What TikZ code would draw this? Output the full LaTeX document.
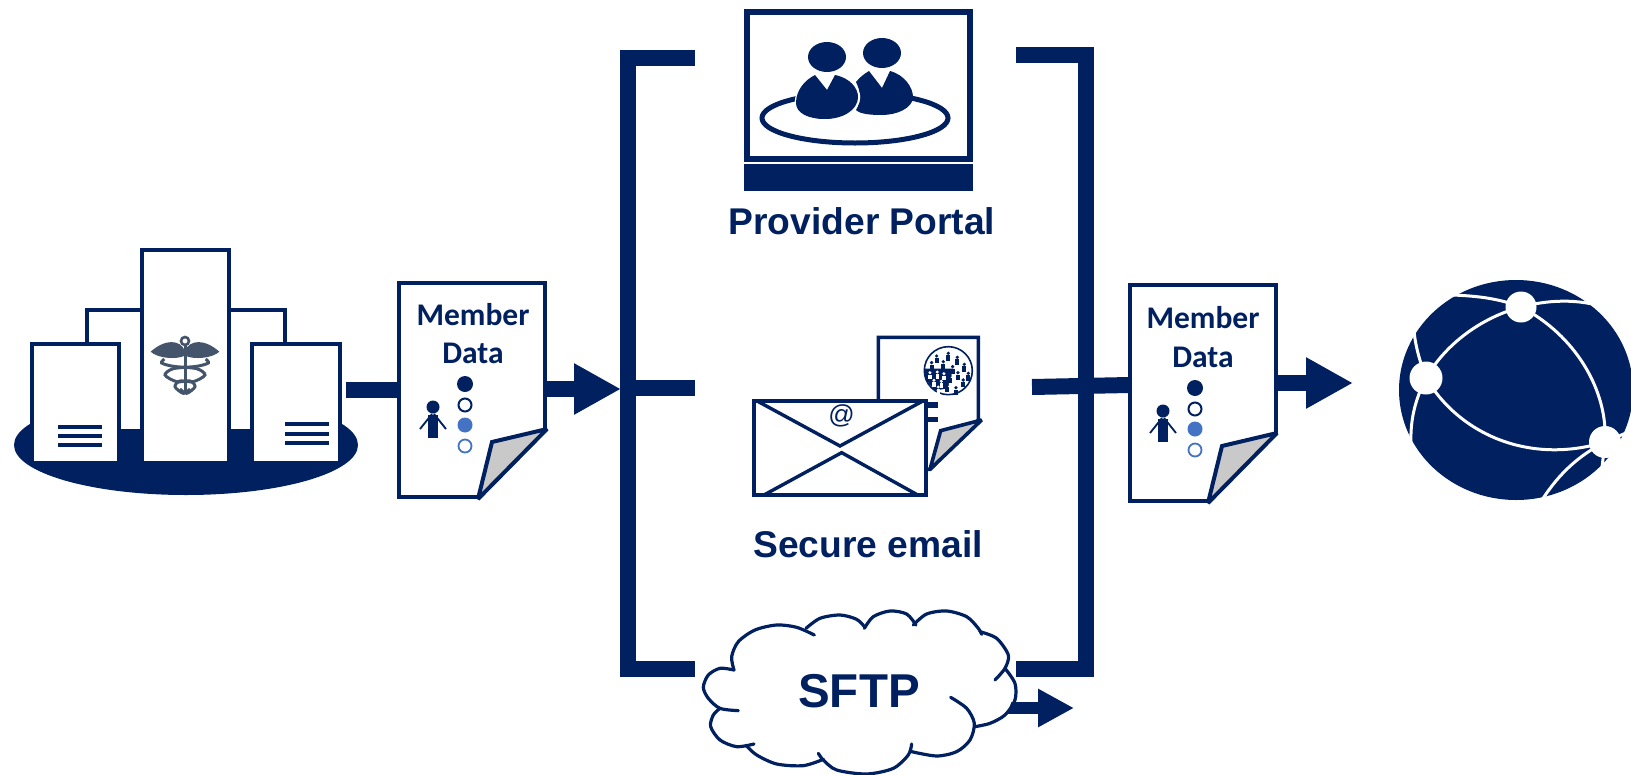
\documentclass[tikz,border=0pt]{standalone}
\usepackage{fontspec}
\usepackage{tikz}
\usetikzlibrary{arrows.meta}
\setmainfont{Liberation Sans}
\newfontfamily\calibrifont{Carlito}
\definecolor{navy}{HTML}{002060}
\definecolor{foldgray}{HTML}{C9C9C9}
\definecolor{dotblue}{HTML}{4472C4}
\definecolor{staffgray}{HTML}{44546A}

\tikzset{
  building/.style={draw=navy,fill=white,line width=4pt,inner sep=0pt},
  docbox/.style={draw=navy,fill=white,line width=4pt,inner sep=0pt,minimum width=146pt},
  doctext/.style={text=navy,font=\calibrifont\bfseries\fontsize{31.5}{31.5}\selectfont,inner sep=0pt},
  bigtext/.style={text=navy,font=\bfseries\fontsize{37.2}{37.2}\selectfont,inner sep=0pt},
  link/.style={draw=navy,line width=16pt},
  linkhead/.style={draw=navy,line width=16pt,-{Triangle[length=47pt,width=48pt]}},
  bracket/.style={draw=navy,line width=16pt,miter limit=10},
  cloudline/.style={draw=navy,line width=3.2pt,line cap=round},
  globeline/.style={draw=white,line width=3pt},
  docfold/.pic={
    \fill[white] (-1,3) -- (73,-72) -- (73,3) -- cycle;
    \draw[navy,fill=foldgray,line width=4pt,line join=miter,miter limit=3] (0,0) -- (14,-57) -- (69,-70) -- cycle;
    \fill[navy] (-13,-115) circle[radius=8];
    \draw[navy,fill=white,line width=2pt] (-13,-94) circle[radius=6.5];
    \fill[dotblue] (-13,-74) circle[radius=7.5];
    \draw[dotblue,fill=white,line width=1.8pt] (-13,-53) circle[radius=6.5];
    \fill[navy] (-45,-92) circle[radius=6.5];
    \fill[navy] (-50,-84) -- (-40,-84) -- (-40,-61) -- (-50,-61) -- cycle;
    \draw[navy,line width=1.8pt] (-46,-85) -- (-58,-70) (-44,-85) -- (-32,-70);
  },
}

\begin{document}
\begin{tikzpicture}[x=1pt,y=-1pt]
  \useasboundingbox (0,0) rectangle (1631,774);

  % hospital
  \fill[navy] (186,445) ellipse[x radius=172,y radius=50];
  \node[building,minimum width=198pt,minimum height=121pt] (backblock) at (186,370.5) {};
  \node[building,minimum width=87pt,minimum height=119pt] (leftblock) at (75.5,403.5) {};
  \node[building,minimum width=87pt,minimum height=213pt] (midblock) at (185.5,356.5) {};
  \node[building,minimum width=88pt,minimum height=119pt] (rightblock) at (296,403.5) {};
  \foreach \y in {427,436,445} \fill[navy] (57.5,\y-1.8) rectangle (102,\y+1.8);
  \foreach \y in {424,434,443} \fill[navy] (285,\y-1.8) rectangle (329,\y+1.8);
  % staff
  \begin{scope}[shift={(185,325)},x=.3333pt,y=-.3333pt]
    \foreach \s in {1,-1} {
      \fill[staffgray] (0,78) .. controls (-15*\s,42) and (-60*\s,42) .. (-103*\s,80)
        .. controls (-85*\s,98) and (-30*\s,106) .. (0,92) -- cycle;
      \draw[staffgray,line width=3pt,smooth] plot coordinates {(-62*\s,102) (-70*\s,114) (-35*\s,124) (35*\s,131) (60*\s,150) (25*\s,170) (-15*\s,168) (-30*\s,185) (-5*\s,205) (15*\s,192)};
    }
    \draw[staffgray,line width=2.6pt] (0,48) circle[radius=12];
    \draw[staffgray,line width=3pt] (0,60) -- (0,205);
  \end{scope}

  % first document
  \node[docbox,minimum height=214pt] (docleft) at (472,390) {};
  \node[doctext] (memberleft) at (473,315) {Member};
  \node[doctext] (dataleft) at (473,353) {Data};
  \pic at (478,499) {docfold};
  \coordinate (hospout) at (346,390);
  \coordinate (leftmid) at (621,389);
  \draw[link] (hospout) -- (docleft.west);
  \draw[linkhead] (docleft.east |- leftmid) -- (leftmid);

  % brackets
  \coordinate (lefttop) at (695,58);
  \coordinate (leftbot) at (695,669);
  \coordinate (rightop) at (1016,55);
  \coordinate (rightbot) at (1016,669);
  \draw[bracket] (lefttop) -- (627.5,58) -- (627.5,669) -- (leftbot);
  \draw[link] (627.5,388) -- (695,388);
  \draw[bracket] (rightop) -- (1085.5,55) -- (1085.5,669) -- (rightbot);

  % provider portal
  \node[draw=navy,fill=white,line width=6pt,inner sep=0pt,minimum width=223pt,minimum height=147pt] (portal) at (858.5,85.5) {};
  \node[fill=navy,inner sep=0pt,minimum width=229pt,minimum height=27pt] (portalbar) at (858.5,177.5) {};
  \draw[navy,line width=5pt] (855,118) ellipse[x radius=93,y radius=25];
  \fill[navy] (882,53) ellipse[x radius=19,y radius=15];
  \fill[navy] (869,71) -- (882,88) -- (890,71) .. controls (905,75) and (913,88) .. (913,97)
    .. controls (913,108) and (897,115) .. (882,115) .. controls (870,115) and (860,114) .. (856,110)
    .. controls (862,100) and (860,90) .. (856,82) .. controls (860,77) and (864,74) .. (869,71) -- cycle;
  \fill[navy] (827,57) ellipse[x radius=19,y radius=15];
  \draw[white,fill=navy,line width=2.5pt] (815,75) -- (827,90) -- (835,75) .. controls (850,78) and (859,88) .. (859,97)
    .. controls (859,110) and (843,120) .. (825,120) .. controls (808,120) and (796,113) .. (796,103)
    .. controls (796,90) and (805,80) .. (815,75) -- cycle;
  \fill[navy] (815,75) -- (827,90) -- (835,75) .. controls (850,78) and (858,88) .. (858,97)
    .. controls (858,110) and (843,119) .. (825,119) .. controls (808,119) and (796,113) .. (796,103)
    .. controls (796,90) and (805,80) .. (815,75) -- cycle;
  \node[bigtext] (portaltext) at (862,221) {Provider Portal};

  % secure email
  \begin{scope}[shift={(720,320)},x=.3333pt,y=-.3333pt]
    \draw[navy,fill=white,line width=3.6pt] (630,448) -- (475,448) -- (475,52) -- (775,52) -- (775,300) -- cycle;
    \draw[navy,fill=foldgray,line width=3.6pt,miter limit=3] (630,448) -- (662,332) -- (785,300) -- cycle;
    \draw[navy,fill=white,line width=1.6pt] (685,152) circle[radius=72];
    \begin{scope}
      \clip (685,152) circle[radius=71];
      \fill[navy] (615,146) -- (700,146) -- (682,205) -- (645,212) -- (615,175) -- cycle;
    \end{scope}
    \foreach \px/\py in {650/108,685/100,712/112,635/128,670/125,733/133,698/140,745/160,714/158,690/168,730/180,708/203,682/195} {
      \fill[navy] (\px,\py) circle[radius=5.5];
      \fill[navy] (\px-6,\py+6) rectangle (\px+6,\py+22);
    }
    \foreach \px/\py in {630/162,652/160,672/165,642/185,664/188,655/205} {
      \fill[white] (\px,\py-4) circle[radius=5];
      \fill[white] (\px-5,\py+2) rectangle (\px+5,\py+16);
    }
    \fill[navy] (625,247) rectangle (653,263);
    \fill[navy] (625,290) rectangle (653,306);
    \node[draw=navy,fill=white,line width=4pt,inner sep=0pt,minimum width=172pt,minimum height=94pt] (envelope) at (360,385) {};
    \draw[navy,line width=3.4pt] (115,245) -- (360,378) -- (605,245);
    \draw[navy,line width=3.4pt] (130,526) -- (365,398) -- (595,526);
    \node[text=navy,font=\fontsize{26}{26}\selectfont,inner sep=0pt] (attext) at (365,288) {@};
  \end{scope}
  \node[bigtext] (emailtext) at (868,544) {Secure email};

  % second document and the link through the bracket
  \node[docbox,minimum height=216pt] (docright) at (1203,393) {};
  \node[doctext] (memberright) at (1203,318) {Member};
  \node[doctext] (dataright) at (1203,357) {Data};
  \pic at (1208,503) {docfold};
  \coordinate (emailout) at (1032,387);
  \coordinate (emailin) at (1129,385);
  \coordinate (globein) at (1353,383);
  \draw[link] (emailout) -- (emailin);
  \draw[linkhead] (docright.east |- globein) -- (globein);

  % globe
  \fill[navy] (1516,390) ellipse[x radius=117,y radius=110];
  \draw[globeline] (1521,307) .. controls (1480,318) and (1445,345) .. (1426,378);
  \draw[globeline] (1521,307) .. controls (1575,335) and (1608,390) .. (1605,442);
  \draw[globeline] (1426,378) .. controls (1460,435) and (1530,465) .. (1605,442);
  \draw[globeline] (1521,307) .. controls (1500,299) and (1480,296) .. (1452,295);
  \draw[globeline] (1521,307) .. controls (1555,298) and (1585,300) .. (1610,309);
  \draw[globeline] (1426,378) .. controls (1420,362) and (1415,345) .. (1414,330);
  \draw[globeline] (1426,378) .. controls (1415,400) and (1410,420) .. (1411,445);
  \draw[globeline] (1605,442) .. controls (1580,455) and (1560,472) .. (1542,500);
  \draw[globeline] (1605,442) -- (1601,476);
  \draw[globeline] (1605,442) -- (1633,430);
  \node[circle,fill=white,inner sep=0pt,minimum size=31pt] (globetop) at (1521,307) {};
  \node[circle,fill=white,inner sep=0pt,minimum size=33pt] (globeleft) at (1426,378) {};
  \node[circle,fill=white,inner sep=0pt,minimum size=32pt] (globeright) at (1605,442) {};

  % sftp cloud
  \coordinate (sftpin) at (1000,708);
  \coordinate (sftpout) at (1074,708);
  \draw[draw=navy,line width=12pt,-{Triangle[length=36pt,width=36pt]}] (sftpin) -- (sftpout);
  \begin{scope}[shift={(680,600)},x=.3333pt,y=-.3333pt]
    \fill[white,smooth cycle] plot coordinates {(70,262) (120,205) (175,125) (290,75) (390,90) (480,45) (555,75) (630,33) (710,65) (800,33) (900,95) (985,165) (1005,250) (975,345) (885,380) (830,455) (695,455) (560,522) (430,480) (290,492) (200,438) (120,420) (92,380) (110,325)};
    \draw[cloudline,smooth] plot coordinates {(175,332) (120,325) (85,295) (70,262) (85,225) (120,205) (162,210)};
    \draw[cloudline,smooth] plot coordinates {(162,210) (155,170) (175,125) (225,90) (290,75) (350,82) (403,105)};
    \draw[cloudline,smooth] plot coordinates {(378,85) (420,55) (480,45) (530,58) (555,82)};
    \draw[cloudline,smooth] plot coordinates {(553,85) (580,50) (630,33) (680,42) (708,75)};
    \draw[cloudline,smooth] plot coordinates {(700,75) (740,42) (800,33) (860,50) (895,85) (905,103)};
    \draw[cloudline,smooth] plot coordinates {(900,95) (950,115) (985,165) (975,205) (945,240)};
    \draw[cloudline,smooth] plot coordinates {(975,205) (1005,250) (1005,300) (975,345) (930,370) (885,380)};
    \draw[cloudline,smooth] plot coordinates {(812,292) (860,325) (883,370) (870,420) (830,455) (770,468) (695,455)};
    \draw[cloudline,smooth] plot coordinates {(695,432) (685,465) (640,505) (560,522) (470,510) (430,480) (415,460)};
    \draw[cloudline,smooth] plot coordinates {(430,478) (370,497) (290,492) (230,465) (200,438)};
    \draw[cloudline,smooth] plot coordinates {(222,432) (170,440) (120,420) (92,380) (100,345) (120,325)};
  \end{scope}
  \node[text=navy,font=\bfseries\fontsize{47.5}{47.5}\selectfont,inner sep=0pt] (sftptext) at (859,691) {SFTP};
\end{tikzpicture}
\end{document}
